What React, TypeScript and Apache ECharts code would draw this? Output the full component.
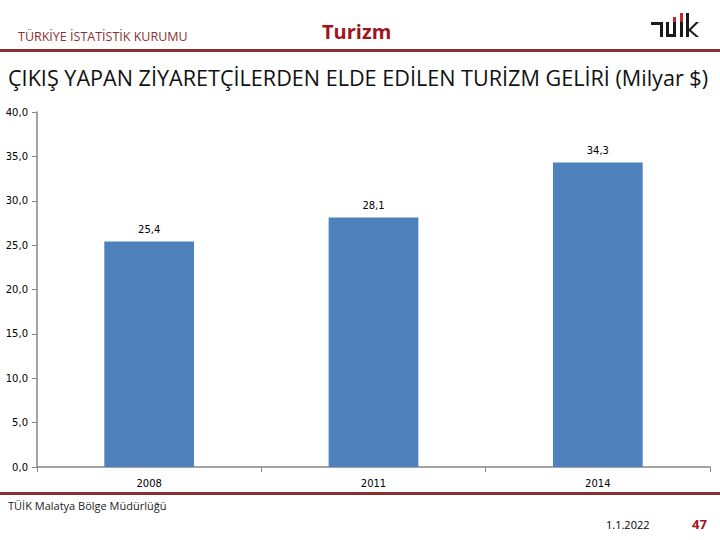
import React, { useEffect, useRef } from "react";
import * as echarts from "echarts";

const categories = ["2008", "2011", "2014"];
const revenue = [25.4, 28.1, 34.3];
const yTicks = { min: 0, max: 40, interval: 5 };

const fmt = (v: number) => v.toFixed(1).replace(".", ",");

export default function App() {
  const ref = useRef<HTMLDivElement>(null);
  useEffect(() => {
    document.body.style.margin = "0";
    const chart = echarts.init(ref.current!, null, { renderer: "svg" });
    const dark = "#8B2F2F";
    chart.setOption({
      animation: false,
      backgroundColor: "#ffffff",
      grid: { left: 37, right: 10, top: 112, bottom: 73 },
      xAxis: {
        type: "category",
        data: categories,
        axisLine: { lineStyle: { color: "#868686", width: 1.5 } },
        axisTick: { show: true, length: 5, alignWithLabel: false, lineStyle: { color: "#868686" } },
        axisLabel: { color: "#000", fontFamily: "DejaVu Sans", fontSize: 10, margin: 11 },
      },
      yAxis: {
        type: "value",
        min: yTicks.min,
        max: yTicks.max,
        interval: yTicks.interval,
        axisLine: { show: true, lineStyle: { color: "#868686", width: 1.5 } },
        axisTick: { show: true, length: 5, lineStyle: { color: "#868686" } },
        splitLine: { show: false },
        axisLabel: {
          color: "#000",
          fontFamily: "DejaVu Sans",
          fontSize: 10,
          margin: 9,
          formatter: (v: number) => fmt(v),
        },
      },
      series: [
        {
          type: "bar",
          data: revenue,
          barCategoryGap: "60%",
          itemStyle: { color: "#4F81BD" },
          label: {
            show: true,
            position: "top",
            distance: 7,
            color: "#000",
            fontFamily: "DejaVu Sans",
            fontSize: 10,
            formatter: (p: any) => fmt(p.value),
          },
        },
      ],
      graphic: [
        { type: "text", left: 18, top: 30, style: { text: "TÜRKİYE İSTATİSTİK KURUMU", fill: dark, font: "12.5px 'Open Sans'" } },
        { type: "text", left: 322, top: 21, style: { text: "Turizm", fill: "#A0141E", font: "bold 20px 'Open Sans'" } },
        { type: "rect", shape: { x: 0, y: 49, width: 720, height: 3 }, style: { fill: dark } },
        { type: "text", left: 8, top: 66, style: { text: "ÇIKIŞ YAPAN ZİYARETÇİLERDEN ELDE EDİLEN TURİZM GELİRİ (Milyar $)", fill: "#111", font: "21.6px 'Open Sans'" } },
        { type: "rect", shape: { x: 0, y: 492, width: 720, height: 3 }, style: { fill: dark } },
        { type: "text", left: 8, top: 500, style: { text: "TÜİK Malatya Bölge Müdürlüğü", fill: "#222", font: "11px 'Open Sans'" } },
        { type: "text", left: 606, top: 519, style: { text: "1.1.2022", fill: "#000", font: "11px 'Open Sans'" } },
        { type: "text", left: 692, top: 517, style: { text: "47", fill: "#A0141E", font: "bold 13px 'Open Sans'" } },
        // logo
        { type: "rect", shape: { x: 651, y: 22, width: 12, height: 3 }, style: { fill: "#1a1a1a" } },
        { type: "rect", shape: { x: 660, y: 22, width: 3, height: 15 }, style: { fill: "#1a1a1a" } },
        { type: "rect", shape: { x: 666, y: 22, width: 3, height: 15 }, style: { fill: "#1a1a1a" } },
        { type: "rect", shape: { x: 673, y: 22, width: 3, height: 15 }, style: { fill: "#1a1a1a" } },
        { type: "rect", shape: { x: 673, y: 17, width: 3, height: 5 }, style: { fill: "#C0282E" } },
        { type: "rect", shape: { x: 666, y: 34, width: 10, height: 3 }, style: { fill: "#1a1a1a" } },
        { type: "rect", shape: { x: 680, y: 22, width: 3, height: 15 }, style: { fill: "#1a1a1a" } },
        { type: "rect", shape: { x: 680, y: 13, width: 3, height: 9 }, style: { fill: "#C0282E" } },
        { type: "rect", shape: { x: 686, y: 13, width: 3, height: 24 }, style: { fill: "#1a1a1a" } },
        { type: "polygon", shape: { points: [[689, 29], [696, 22], [699, 22], [691, 30], [699, 37], [696, 37], [689, 31]] }, style: { fill: "#1a1a1a" } },
      ],
    });
    return () => chart.dispose();
  }, []);
  return <div ref={ref} style={{ position: "fixed", left: 0, top: 0, width: 720, height: 540 }} />;
}
